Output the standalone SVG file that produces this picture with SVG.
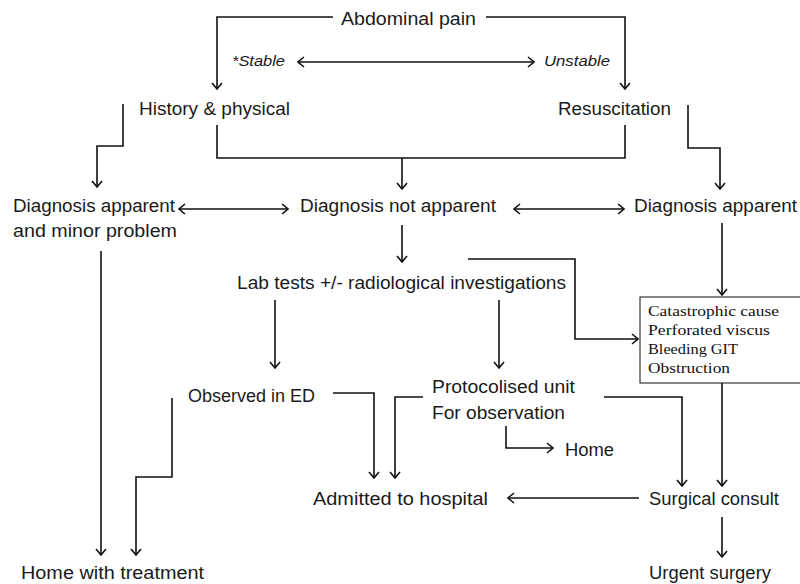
<svg xmlns="http://www.w3.org/2000/svg" width="800" height="584" viewBox="0 0 800 584">
<defs>
<marker id="ah" viewBox="0 0 10 12" refX="9" refY="6" markerWidth="10" markerHeight="12" orient="auto-start-reverse" markerUnits="userSpaceOnUse">
<path d="M3,1 L9,6 L3,11" fill="none" stroke="#111" stroke-width="1.6"/>
</marker>
<style>
.t{font-family:"Liberation Sans",Arial,sans-serif;font-size:17.5px;fill:#1a1a1a}
.i{font-family:"Liberation Sans",Arial,sans-serif;font-size:14px;font-style:italic;fill:#1a1a1a}
.s{font-family:"Liberation Serif","Times New Roman",serif;font-size:15.5px;fill:#111}
.c{fill:none;stroke:#111;stroke-width:1.6}
.a{fill:none;stroke:#111;stroke-width:1.6;marker-end:url(#ah)}
.d{fill:none;stroke:#111;stroke-width:1.6;marker-start:url(#ah);marker-end:url(#ah)}
</style>
</defs>
<rect width="800" height="584" fill="#fff"/>
<g id="connectors">
<path class="a" d="M333,17 H217 V89"/>
<path class="a" d="M486,17 H625 V89"/>
<path class="d" d="M298,62 H534"/>
<path class="c" d="M217,125 V158 H625 V125"/>
<path class="a" d="M402,158 V189"/>
<path class="a" d="M123,104 V146 H97 V187"/>
<path class="a" d="M688,105 V148 H720 V189"/>
<path class="d" d="M179,209 H288"/>
<path class="d" d="M514,209 H624"/>
<path class="a" d="M402,225 V262"/>
<path class="a" d="M722,223 V295"/>
<path class="a" d="M468,259 H575 V339 H638"/>
<path class="a" d="M275,300 V368"/>
<path class="a" d="M499,300 V368"/>
<path class="a" d="M101,251 V555"/>
<path class="a" d="M172,398 V477 H136 V555"/>
<path class="a" d="M333,393 H374 V478"/>
<path class="a" d="M423,397 H395 V478"/>
<path class="a" d="M604,397 H682 V486"/>
<path class="a" d="M506,426 V448 H553"/>
<path class="a" d="M722,383 V486"/>
<path class="a" d="M639,498 H508"/>
<path class="a" d="M722,517 V557"/>
</g>
<g id="abdominal-pain"><text class="t" x="341" y="25" textLength="135" lengthAdjust="spacingAndGlyphs">Abdominal pain</text></g>
<g id="stable"><text class="i" x="232" y="66" textLength="53" lengthAdjust="spacingAndGlyphs">*Stable</text></g>
<g id="unstable"><text class="i" x="544" y="66" textLength="66" lengthAdjust="spacingAndGlyphs">Unstable</text></g>
<g id="history"><text class="t" x="139" y="115" textLength="151" lengthAdjust="spacingAndGlyphs">History &amp; physical</text></g>
<g id="resuscitation"><text class="t" x="558" y="115" textLength="113" lengthAdjust="spacingAndGlyphs">Resuscitation</text></g>
<g id="dx-minor"><text class="t" x="13" y="212" textLength="162" lengthAdjust="spacingAndGlyphs">Diagnosis apparent</text><text class="t" x="13" y="237" textLength="164" lengthAdjust="spacingAndGlyphs">and minor problem</text></g>
<g id="dx-not"><text class="t" x="300" y="212" textLength="196" lengthAdjust="spacingAndGlyphs">Diagnosis not apparent</text></g>
<g id="dx-apparent"><text class="t" x="634" y="212" textLength="163" lengthAdjust="spacingAndGlyphs">Diagnosis apparent</text></g>
<g id="lab"><text class="t" x="237" y="289" textLength="329" lengthAdjust="spacingAndGlyphs">Lab tests +/- radiological investigations</text></g>
<g id="catastrophic">
<rect x="640" y="297" width="170" height="86" fill="#fff" stroke="#111" stroke-width="1"/>
<text class="s" x="648" y="316" textLength="131" lengthAdjust="spacingAndGlyphs">Catastrophic cause</text>
<text class="s" x="648" y="335" textLength="122" lengthAdjust="spacingAndGlyphs">Perforated viscus</text>
<text class="s" x="648" y="354" textLength="90" lengthAdjust="spacingAndGlyphs">Bleeding GIT</text>
<text class="s" x="648" y="373" textLength="82" lengthAdjust="spacingAndGlyphs">Obstruction</text>
</g>
<g id="observed"><text class="t" x="188" y="402" textLength="127" lengthAdjust="spacingAndGlyphs">Observed in ED</text></g>
<g id="protocolised"><text class="t" x="432" y="393" textLength="143" lengthAdjust="spacingAndGlyphs">Protocolised unit</text><text class="t" x="432" y="419" textLength="133" lengthAdjust="spacingAndGlyphs">For observation</text></g>
<g id="home"><text class="t" x="565" y="456" textLength="49" lengthAdjust="spacingAndGlyphs">Home</text></g>
<g id="admitted"><text class="t" x="313" y="505" textLength="175" lengthAdjust="spacingAndGlyphs">Admitted to hospital</text></g>
<g id="surgical"><text class="t" x="649" y="505" textLength="130" lengthAdjust="spacingAndGlyphs">Surgical consult</text></g>
<g id="home-treatment"><text class="t" x="21" y="579" textLength="183" lengthAdjust="spacingAndGlyphs">Home with treatment</text></g>
<g id="urgent"><text class="t" x="649" y="579" textLength="122" lengthAdjust="spacingAndGlyphs">Urgent surgery</text></g>
</svg>
